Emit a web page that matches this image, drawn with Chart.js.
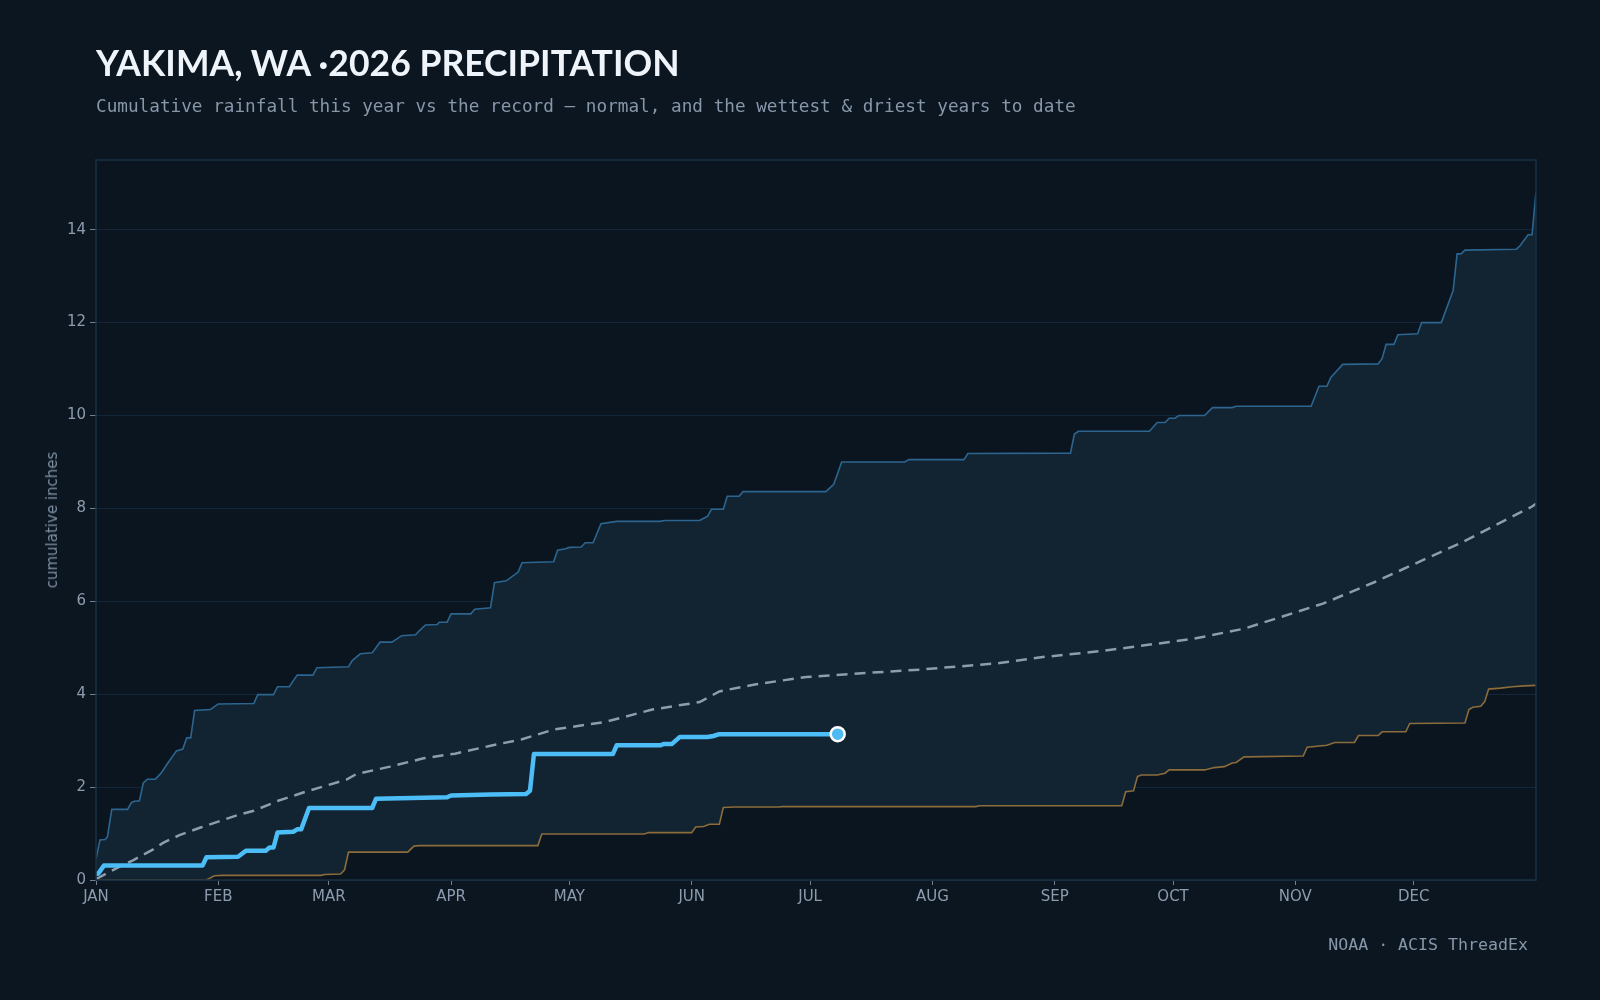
<!DOCTYPE html>
<html>
<head>
<meta charset="utf-8">
<script src="https://cdn.jsdelivr.net/npm/chart.js@4.4.1/dist/chart.umd.min.js"></script>
<style>
  html, body { margin: 0; padding: 0; background: #0c1620; }
  #wrap { position: relative; width: 1600px; height: 1000px; overflow: hidden; }
  #chart { position: absolute; left: 0; top: 0; }
  .title {
    position: absolute; left: 96px; top: 43px;
    font: 700 37px Lato, sans-serif; line-height: 37px;
    color: #eef4fa; white-space: nowrap;
    transform: scaleX(0.96); transform-origin: 0 0;
  }
  .subtitle {
    position: absolute; left: 96px; top: 98px;
    font: 17.7px "DejaVu Sans Mono", monospace; line-height: 17.7px;
    color: #8797aa; white-space: nowrap;
  }
  .source {
    position: absolute; right: 72px; top: 937px;
    font: 16.6px "DejaVu Sans Mono", monospace; line-height: 16.6px;
    color: #8797aa; white-space: nowrap;
  }
  .ytitle {
    position: absolute; left: 52px; top: 520px;
    transform: translate(-50%, -50%) rotate(-90deg);
    font: 15px "DejaVu Sans", sans-serif; color: #7b8da1; white-space: nowrap;
  }
</style>
</head>
<body>
<div id="wrap">
  <canvas id="chart" width="1600" height="1000"></canvas>
  <div class="title">YAKIMA, WA ·2026 PRECIPITATION</div>
  <div class="subtitle">Cumulative rainfall this year vs the record — normal, and the wettest &amp; driest years to date</div>
  <div class="ytitle">cumulative inches</div>
  <div class="source">NOAA · ACIS ThreadEx</div>
</div>
<script>
// x = day of year (0 = Jan 1), y = cumulative inches
const monthStarts = [0, 31, 59, 90, 120, 151, 181, 212, 243, 273, 304, 334];
const monthLabels = ['JAN', 'FEB', 'MAR', 'APR', 'MAY', 'JUN', 'JUL', 'AUG', 'SEP', 'OCT', 'NOV', 'DEC'];

const thisYearDays = [0, 0.6, 2, 27, 28, 36, 38, 43, 44, 45, 46, 50, 51, 52, 54, 70, 71, 89, 90, 100, 109, 110, 111, 131, 132, 143, 144, 146, 148, 155, 156.5, 158, 188];
const thisYearInches = [0.13, 0.14, 0.31, 0.31, 0.49, 0.50, 0.63, 0.63, 0.70, 0.70, 1.02, 1.04, 1.09, 1.09, 1.55, 1.55, 1.75, 1.78, 1.82, 1.84, 1.85, 1.92, 2.71, 2.71, 2.90, 2.90, 2.93, 2.93, 3.08, 3.08, 3.10, 3.14, 3.14];

const normalDays = [0, 6, 9.5, 14.5, 17, 21, 26.5, 36, 40, 46, 53.5, 63.5, 66, 74.5, 83, 91, 100, 108, 116, 129, 141, 153, 158, 167, 180, 192, 209, 229, 240, 255, 278, 291, 311, 324, 346, 364, 365];
const normalInches = [0.02, 0.29, 0.43, 0.66, 0.80, 0.96, 1.13, 1.40, 1.49, 1.70, 1.91, 2.16, 2.28, 2.44, 2.62, 2.72, 2.89, 3.03, 3.24, 3.40, 3.67, 3.83, 4.06, 4.21, 4.37, 4.44, 4.53, 4.67, 4.80, 4.93, 5.19, 5.41, 5.95, 6.41, 7.26, 8.04, 8.10];

const wettestDays = [0, 1, 2.3, 2.9, 4, 8, 9, 10, 11, 12, 13, 15, 16.5, 18.3, 20.4, 22, 23, 24, 25, 29, 31, 40, 41, 45, 46, 49, 51, 55, 56, 64, 65, 67, 70, 72, 75, 77.5, 81, 82, 83.5, 86.5, 87, 89, 90, 95, 96, 100, 101, 104, 107, 108, 116, 117, 119, 120, 123, 124, 126, 128, 132, 143, 144, 153, 155, 156, 159, 160, 163, 164, 185, 187, 189, 205, 206, 220, 221, 247, 248, 249, 267, 269, 271, 272, 273.5, 274.5, 281, 283, 288, 289, 308, 310, 312, 313, 316, 325, 326, 327, 329, 330, 335, 336, 341, 344, 345, 346, 347, 360, 361, 363, 364, 365];
const wettestInches = [0.45, 0.86, 0.87, 0.93, 1.52, 1.52, 1.67, 1.70, 1.70, 2.09, 2.17, 2.17, 2.30, 2.53, 2.78, 2.82, 3.06, 3.06, 3.65, 3.67, 3.79, 3.80, 3.99, 3.99, 4.16, 4.16, 4.41, 4.41, 4.57, 4.59, 4.73, 4.87, 4.89, 5.12, 5.12, 5.26, 5.28, 5.37, 5.49, 5.50, 5.55, 5.55, 5.73, 5.73, 5.83, 5.86, 6.40, 6.44, 6.63, 6.83, 6.85, 7.10, 7.13, 7.16, 7.17, 7.26, 7.26, 7.67, 7.72, 7.72, 7.74, 7.74, 7.83, 7.98, 7.98, 8.26, 8.26, 8.36, 8.36, 8.52, 9.00, 9.00, 9.05, 9.05, 9.18, 9.19, 9.60, 9.66, 9.66, 9.85, 9.85, 9.94, 9.94, 10.00, 10.00, 10.17, 10.17, 10.20, 10.20, 10.63, 10.63, 10.82, 11.10, 11.11, 11.23, 11.53, 11.53, 11.74, 11.76, 12.00, 12.00, 12.69, 13.48, 13.48, 13.56, 13.58, 13.66, 13.89, 13.89, 14.81];

const driestDays = [0, 28, 30, 32, 57, 58, 62, 63, 64, 79, 80.6, 82, 112, 113, 139, 140, 151, 152, 154, 155.5, 158, 159, 162, 173, 174, 223, 224, 260, 261, 263, 264, 265, 269, 271, 272, 281, 283.5, 286, 288, 289, 291, 306, 307, 312, 314, 319, 320, 325, 326, 332, 333, 347, 348, 349, 351, 352, 353, 356, 359, 362, 365];
const driestInches = [0, 0, 0.09, 0.10, 0.10, 0.12, 0.13, 0.22, 0.60, 0.60, 0.73, 0.74, 0.74, 0.99, 0.99, 1.02, 1.02, 1.14, 1.15, 1.20, 1.20, 1.56, 1.57, 1.57, 1.58, 1.58, 1.60, 1.60, 1.90, 1.92, 2.23, 2.26, 2.26, 2.30, 2.37, 2.37, 2.42, 2.44, 2.52, 2.53, 2.65, 2.67, 2.86, 2.90, 2.96, 2.96, 3.11, 3.11, 3.19, 3.19, 3.37, 3.38, 3.67, 3.72, 3.74, 3.84, 4.11, 4.13, 4.16, 4.18, 4.19];

const yTicks = [0, 2, 4, 6, 8, 10, 12, 14];

function toPoints(days, vals) {
  return days.map((d, i) => ({ x: d, y: vals[i] }));
}

const lastIdx = thisYearDays.length - 1;

// plot background + frame round the chart area
const plotFrame = {
  id: 'plotFrame',
  beforeDraw(chart) {
    const { ctx, chartArea: a } = chart;
    ctx.save();
    ctx.fillStyle = '#0b151f';
    ctx.fillRect(a.left, a.top, a.right - a.left, a.bottom - a.top);
    ctx.restore();
  },
  afterDraw(chart) {
    const { ctx, chartArea: a } = chart;
    ctx.save();
    ctx.strokeStyle = '#1a3043';
    ctx.lineWidth = 1.5;
    ctx.strokeRect(a.left, a.top, a.right - a.left, a.bottom - a.top);
    ctx.restore();
  }
};

Chart.defaults.font.family = '"DejaVu Sans", sans-serif';

new Chart(document.getElementById('chart'), {
  type: 'line',
  data: {
    datasets: [
      {
        label: '2026',
        data: toPoints(thisYearDays, thisYearInches),
        borderColor: '#4dbdf7',
        borderWidth: 4.5,
        borderJoinStyle: 'round',
        borderCapStyle: 'round',
        pointRadius: ctx => ctx.dataIndex === lastIdx ? 7 : 0,
        pointBackgroundColor: '#4fb9f4',
        pointBorderColor: '#ffffff',
        pointBorderWidth: 2.5,
        fill: false
      },
      {
        label: 'Normal',
        data: toPoints(normalDays, normalInches),
        borderColor: '#8d9daf',
        borderWidth: 2.5,
        borderDash: [11, 7],
        pointRadius: 0,
        fill: false
      },
      {
        label: 'Wettest',
        data: toPoints(wettestDays, wettestInches),
        borderColor: '#2c6690',
        borderWidth: 1.6,
        pointRadius: 0,
        backgroundColor: '#122332',
        fill: '+1'
      },
      {
        label: 'Driest',
        data: toPoints(driestDays, driestInches),
        borderColor: '#8b6c3a',
        borderWidth: 1.6,
        pointRadius: 0,
        fill: false
      }
    ]
  },
  options: {
    responsive: false,
    animation: false,
    devicePixelRatio: 1,
    layout: { padding: { top: 160, right: 64, bottom: 0, left: 0 } },
    plugins: {
      legend: { display: false },
      tooltip: { enabled: false },
      filler: { drawTime: 'beforeDatasetsDraw' }
    },
    scales: {
      x: {
        type: 'linear',
        min: 0,
        max: 365,
        afterFit: s => { s.height = 120; },
        afterBuildTicks: s => { s.ticks = monthStarts.map(v => ({ value: v })); },
        border: { display: false },
        grid: { drawOnChartArea: false, tickLength: 5, tickColor: '#6e8195' },
        ticks: {
          color: '#8c9cae',
          font: { size: 15 },
          padding: 3,
          maxRotation: 0,
          autoSkip: false,
          callback: v => monthLabels[monthStarts.indexOf(v)]
        }
      },
      y: {
        min: 0,
        max: 15.5,
        afterFit: s => { s.width = 96; },
        afterBuildTicks: s => { s.ticks = yTicks.map(v => ({ value: v })); },
        border: { display: false },
        grid: { color: '#13263a', lineWidth: 1, tickLength: 6, tickColor: '#6e8195' },
        ticks: { color: '#8c9cae', font: { size: 15 }, padding: 4 }
      }
    }
  },
  plugins: [plotFrame]
});
</script>
</body>
</html>
